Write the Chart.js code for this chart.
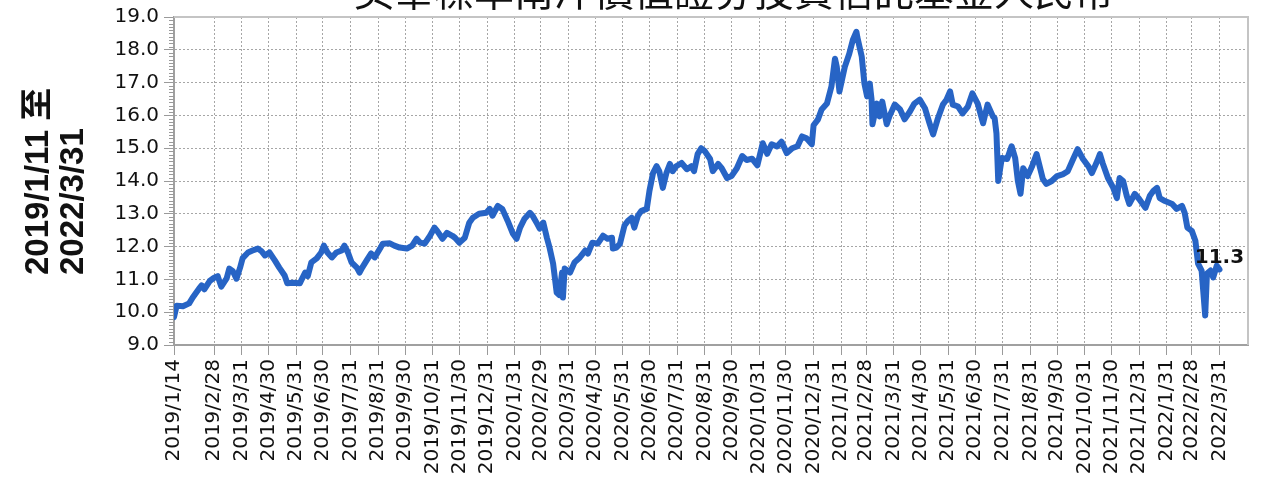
<!DOCTYPE html>
<html><head><meta charset="utf-8">
<script src="https://cdn.jsdelivr.net/npm/chart.js@4/dist/chart.umd.min.js"></script>
<style>html,body{margin:0;padding:0;background:#fff;overflow:hidden}</style>
</head><body>
<canvas id="c" width="1261" height="481"></canvas>
<script>
const chartTitle = '美華標準南洋價值證券投資信託基金人民幣';
const axisTitleLines = ['2019/1/11 至', '2022/3/31'];
const xRange = ['2019-01-14', '2022-05-02'];
const tickLabels = [
 '2019/1/14','2019/2/28','2019/3/31','2019/4/30','2019/5/31','2019/6/30','2019/7/31','2019/8/31','2019/9/30','2019/10/31','2019/11/30','2019/12/31',
 '2020/1/31','2020/2/29','2020/3/31','2020/4/30','2020/5/31','2020/6/30','2020/7/31','2020/8/31','2020/9/30','2020/10/31','2020/11/30','2020/12/31',
 '2021/1/31','2021/2/28','2021/3/31','2021/4/30','2021/5/31','2021/6/30','2021/7/31','2021/8/31','2021/9/30','2021/10/31','2021/11/30','2021/12/31',
 '2022/1/31','2022/2/28','2022/3/31'
];
const dates = [
 '2019-01-14','2019-01-17','2019-01-24','2019-01-31','2019-02-04','2019-02-12','2019-02-14','2019-02-17','2019-02-23','2019-02-28',
 '2019-03-04','2019-03-08','2019-03-14','2019-03-17','2019-03-21','2019-03-25','2019-03-29','2019-04-01','2019-04-07','2019-04-12',
 '2019-04-18','2019-04-22','2019-04-26','2019-05-01','2019-05-07','2019-05-12','2019-05-18','2019-05-21','2019-05-27','2019-06-04',
 '2019-06-10','2019-06-13','2019-06-17','2019-06-23','2019-06-28','2019-07-01','2019-07-05','2019-07-10','2019-07-15','2019-07-21',
 '2019-07-24','2019-07-28','2019-08-01','2019-08-07','2019-08-10','2019-08-13','2019-08-18','2019-08-23','2019-08-27','2019-09-02',
 '2019-09-05','2019-09-13','2019-09-18','2019-09-24','2019-10-02','2019-10-08','2019-10-13','2019-10-17','2019-10-22','2019-10-28',
 '2019-11-02','2019-11-05','2019-11-11','2019-11-16','2019-11-22','2019-11-25','2019-11-30','2019-12-06','2019-12-11','2019-12-15',
 '2019-12-22','2019-12-30','2020-01-03','2020-01-06','2020-01-12','2020-01-17','2020-01-23','2020-01-29','2020-02-02','2020-02-06',
 '2020-02-11','2020-02-17','2020-02-20','2020-02-25','2020-02-28','2020-03-03','2020-03-07','2020-03-10','2020-03-14','2020-03-18',
 '2020-03-21','2020-03-24','2020-03-25','2020-03-27','2020-04-02','2020-04-07','2020-04-13','2020-04-19','2020-04-22','2020-04-27',
 '2020-05-03','2020-05-09','2020-05-14','2020-05-19','2020-05-20','2020-05-24','2020-05-28','2020-06-02','2020-06-06','2020-06-10',
 '2020-06-13','2020-06-17','2020-06-21','2020-06-27','2020-06-30','2020-07-04','2020-07-08','2020-07-11','2020-07-15','2020-07-19',
 '2020-07-23','2020-07-26','2020-07-30','2020-08-05','2020-08-11','2020-08-16','2020-08-19','2020-08-23','2020-08-27','2020-08-31',
 '2020-09-06','2020-09-09','2020-09-15','2020-09-19','2020-09-25','2020-09-30','2020-10-06','2020-10-12','2020-10-17','2020-10-23',
 '2020-10-29','2020-11-04','2020-11-09','2020-11-14','2020-11-20','2020-11-25','2020-12-01','2020-12-07','2020-12-13','2020-12-18',
 '2020-12-23','2020-12-29','2020-12-31','2021-01-05','2021-01-09','2021-01-15','2021-01-20','2021-01-24','2021-01-26','2021-01-29',
 '2021-02-04','2021-02-09','2021-02-13','2021-02-17','2021-02-18','2021-02-23','2021-02-26','2021-03-01','2021-03-04','2021-03-06',
 '2021-03-07','2021-03-12','2021-03-15','2021-03-18','2021-03-23','2021-03-26','2021-04-01','2021-04-07','2021-04-12','2021-04-18',
 '2021-04-23','2021-04-29','2021-05-05','2021-05-10','2021-05-14','2021-05-19','2021-05-25','2021-05-29','2021-06-02','2021-06-05',
 '2021-06-11','2021-06-16','2021-06-22','2021-06-27','2021-07-03','2021-07-09','2021-07-14','2021-07-20','2021-07-22','2021-07-24',
 '2021-07-26','2021-07-30','2021-08-05','2021-08-10','2021-08-14','2021-08-17','2021-08-20','2021-08-23','2021-08-28','2021-09-02',
 '2021-09-07','2021-09-11','2021-09-14','2021-09-18','2021-09-24','2021-09-30','2021-10-07','2021-10-12','2021-10-18','2021-10-23',
 '2021-10-29','2021-11-04','2021-11-08','2021-11-14','2021-11-17','2021-11-20','2021-11-26','2021-12-02','2021-12-06','2021-12-09',
 '2021-12-13','2021-12-17','2021-12-20','2021-12-26','2021-12-31','2022-01-07','2022-01-12','2022-01-16','2022-01-20','2022-01-23',
 '2022-01-29','2022-02-06','2022-02-11','2022-02-17','2022-02-20','2022-02-23','2022-02-28','2022-03-04','2022-03-07','2022-03-11',
 '2022-03-15','2022-03-17','2022-03-21','2022-03-24','2022-03-28','2022-03-31'
];
const values = [
 9.85,10.2,10.18,10.27,10.45,10.75,10.82,10.7,10.95,11.05,
 11.1,10.78,11.03,11.33,11.25,11.02,11.35,11.65,11.82,11.88,
 11.94,11.86,11.73,11.82,11.58,11.36,11.12,10.88,10.9,10.88,
 11.21,11.1,11.52,11.64,11.82,12.03,11.82,11.67,11.82,11.88,
 12.03,11.82,11.52,11.36,11.21,11.36,11.58,11.79,11.67,11.94,
 12.09,12.1,12.03,11.97,11.94,12.03,12.24,12.12,12.09,12.33,
 12.58,12.48,12.24,12.42,12.33,12.27,12.12,12.27,12.73,12.88,
 13.0,13.03,13.15,12.94,13.24,13.15,12.79,12.39,12.24,12.58,
 12.85,13.03,12.94,12.7,12.55,12.73,12.27,11.97,11.48,10.6,
 10.52,11.21,10.45,11.33,11.21,11.52,11.67,11.88,11.79,12.12,
 12.09,12.33,12.24,12.27,11.94,11.97,12.09,12.64,12.79,12.88,
 12.58,12.94,13.09,13.15,13.7,14.24,14.45,14.3,13.79,14.24,
 14.52,14.3,14.45,14.55,14.36,14.45,14.3,14.82,15.0,14.91,
 14.67,14.3,14.52,14.39,14.09,14.15,14.39,14.76,14.64,14.68,
 14.48,15.15,14.83,15.12,15.05,15.2,14.85,15.0,15.06,15.36,
 15.3,15.12,15.7,15.88,16.18,16.36,16.88,17.73,17.48,16.73,
 17.48,17.88,18.3,18.55,18.39,17.79,16.97,16.58,16.97,16.48,
 15.73,16.36,15.97,16.42,15.73,15.97,16.33,16.18,15.88,16.12,
 16.36,16.48,16.21,15.76,15.42,15.88,16.33,16.48,16.73,16.33,
 16.27,16.06,16.27,16.67,16.36,15.76,16.33,15.97,15.91,15.45,
 14.0,14.7,14.67,15.06,14.7,14.0,13.61,14.39,14.15,14.45,
 14.82,14.39,14.06,13.91,14.0,14.15,14.21,14.3,14.67,14.97,
 14.67,14.45,14.24,14.61,14.82,14.55,14.09,13.79,13.48,14.09,
 14.0,13.55,13.3,13.61,13.45,13.18,13.55,13.7,13.79,13.48,
 13.39,13.3,13.15,13.24,13.03,12.58,12.48,12.18,11.48,11.27,
 9.9,11.18,11.27,11.06,11.42,11.3
];

const toDay = s => { const p = s.split(/[-\/]/).map(Number); return Date.UTC(p[0], p[1]-1, p[2]) / 86400000; };
const tickDays = tickLabels.map(toDay);
const points = dates.map((d, i) => ({x: toDay(d), y: values[i]}));

const GRID = '#a6a6a6';
const tickFont = {family: '"DejaVu Sans", Verdana, sans-serif', size: 20};

const decor = {
  id: 'decor',
  beforeDatasetsDraw(chart) {
    const {ctx, chartArea: a, scales: {y}} = chart;
    ctx.save();
    ctx.strokeStyle = '#9a9a9a';
    ctx.lineWidth = 1;
    ctx.beginPath();
    for (let k = 90; k <= 190; k++) {
      if (k % 10 === 0) continue;
      const py = Math.round(y.getPixelForValue(k / 10)) + 0.5;
      ctx.moveTo(a.left - 5, py); ctx.lineTo(a.left, py);
    }
    ctx.stroke();
    ctx.strokeStyle = '#c4c4c4';
    ctx.lineWidth = 2;
    ctx.beginPath();
    ctx.moveTo(a.left, a.top); ctx.lineTo(a.right, a.top); ctx.lineTo(a.right, a.bottom);
    ctx.stroke();
    ctx.restore();
  },
  afterDraw(chart) {
    const {ctx} = chart;
    ctx.save();
    ctx.fillStyle = '#111';
    ctx.font = '40px "Noto Sans CJK TC", "Noto Sans CJK SC", sans-serif';
    ctx.textAlign = 'center';
    ctx.textBaseline = 'alphabetic';
    ctx.fillText(chartTitle, 734, 6);
    ctx.font = 'bold 33px "Liberation Sans", Arial, "Noto Sans CJK TC", sans-serif';
    ctx.textAlign = 'left';
    ctx.textBaseline = 'middle';
    ctx.translate(39, 275);
    ctx.rotate(-Math.PI / 2);
    axisTitleLines.forEach((t, i) => ctx.fillText(t, 0, i * 35));
    ctx.restore();
    const meta = chart.getDatasetMeta(0);
    const last = meta.data[meta.data.length - 1];
    ctx.save();
    ctx.fillStyle = '#111';
    ctx.font = 'bold 20px "DejaVu Sans", Verdana, sans-serif';
    ctx.textAlign = 'center';
    ctx.textBaseline = 'alphabetic';
    ctx.fillText(values[values.length - 1].toFixed(1), last.x, last.y - 7);
    ctx.restore();
  }
};

new Chart(document.getElementById('c'), {
  type: 'line',
  data: {datasets: [{
    data: points,
    borderColor: '#2764c5',
    borderWidth: 6,
    pointRadius: 0,
    tension: 0,
    borderJoinStyle: 'round',
    borderCapStyle: 'round'
  }]},
  options: {
    responsive: false,
    animation: false,
    devicePixelRatio: 1,
    layout: {padding: {top: 15, right: 13, left: 0, bottom: 0}},
    plugins: {legend: {display: false}, tooltip: {enabled: false}, title: {display: false}},
    scales: {
      x: {
        type: 'linear',
        min: toDay(xRange[0]),
        max: toDay(xRange[1]),
        afterBuildTicks: s => { s.ticks = tickDays.map(v => ({value: v})); },
        afterFit: s => { s.height = 136; },
        ticks: {
          autoSkip: false, minRotation: 90, maxRotation: 90, padding: 4,
          color: '#111', font: tickFont,
          callback: (v, i) => tickLabels[i]
        },
        grid: {color: GRID, lineWidth: 1, tickLength: 10, tickColor: '#9a9a9a'},
        border: {display: true, color: '#a0a0a0', width: 2, dash: [2, 2]}
      },
      y: {
        min: 9, max: 19,
        afterFit: s => { s.width = 174; },
        ticks: {stepSize: 1, padding: 5, color: '#111', font: tickFont, callback: v => Number(v).toFixed(1)},
        grid: {color: GRID, lineWidth: 1, tickLength: 10, tickColor: '#9a9a9a'},
        border: {display: true, color: '#a0a0a0', width: 2, dash: [2, 2]}
      }
    }
  },
  plugins: [decor]
});
</script>
</body></html>
